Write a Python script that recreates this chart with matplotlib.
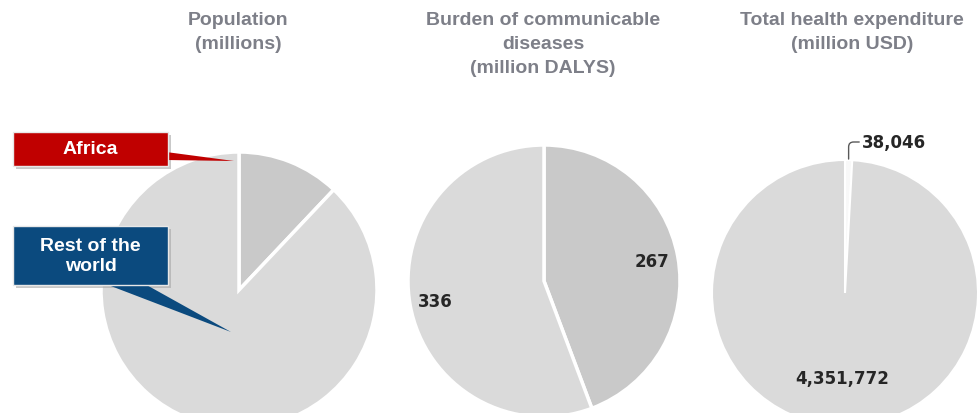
import numpy as np
import matplotlib
matplotlib.use("Agg")
import matplotlib.pyplot as plt
from matplotlib.patches import Rectangle, Polygon

# data
titles = ["Population\n(millions)",
          "Burden of communicable\ndiseases\n(million DALYS)",
          "Total health expenditure\n(million USD)"]
population = [1000, 7300]          # Africa, rest of the world (no labels shown)
dalys = [267, 336]                 # Africa, rest of the world
expenditure = [38046, 4351772]     # Africa, rest of the world

W, H = 977, 414
light = "#dadada"
dark = "#c9c9c9"
txt = "#262626"
title_col = "#7d7f88"


def Y(y):
    # image pixel row -> data y (y axis points up)
    return H - y


fig = plt.figure(figsize=(W / 100, H / 100), dpi=100)
ax = fig.add_axes([0, 0, 1, 1])
wp = dict(edgecolor="white", linewidth=2.5)

# pie 1: population
ax.pie(population, center=(239, Y(291)), radius=138, startangle=90,
       counterclock=False, colors=[dark, light], wedgeprops=wp)

# pie 2: communicable disease burden
w2, t2, a2 = ax.pie(dalys, center=(544, Y(282)), radius=136, startangle=90,
                    counterclock=False, colors=[dark, light], wedgeprops=wp,
                    autopct=lambda p: f"{p * sum(dalys) / 100:.0f}",
                    pctdistance=0.81)
for a in a2:
    a.set(fontsize=12, fontweight="bold", color=txt)

# pie 3: health expenditure
w3, t3 = ax.pie(expenditure, center=(845, Y(294)), radius=133, startangle=90,
                counterclock=False, colors=["#f8f8f8", light],
                wedgeprops=dict(edgecolor="white", linewidth=1.5))
big = w3[1]
mid = np.deg2rad((big.theta1 + big.theta2) / 2)
cx, cy = big.center
ax.text(cx + 0.64 * big.r * np.cos(mid), cy + 0.64 * big.r * np.sin(mid),
        f"{expenditure[1]:,}", ha="center", va="center",
        fontsize=12, fontweight="bold", color=txt)
small = w3[0]
ms = np.deg2rad((small.theta1 + small.theta2) / 2)
ax.annotate(f"{expenditure[0]:,}",
            xy=(cx + small.r * np.cos(ms), cy + small.r * np.sin(ms) + 1),
            xytext=(cx + 17, cy + small.r + 18), ha="left", va="center",
            fontsize=12, fontweight="bold", color=txt,
            arrowprops=dict(arrowstyle="-", color="#595959", lw=1,
                            connectionstyle="angle,angleA=0,angleB=90,rad=5",
                            shrinkA=0, shrinkB=0))

# titles
for x, t in zip([238, 543, 852], titles):
    ax.text(x, Y(12), t, ha="center", va="top", fontsize=14,
            fontweight="bold", color=title_col, family="Liberation Sans",
            linespacing=1.55)


# callout boxes
def callout(x0, y0, x1, y1, color, label, tri):
    sh = 3
    ax.add_patch(Rectangle((x0 + sh, Y(y1 + sh)), x1 - x0, y1 - y0,
                           color="#a6a6a6", alpha=0.6, zorder=4, lw=0))
    ax.add_patch(Polygon([(px, Y(py)) for px, py in tri], closed=True,
                         color=color, zorder=5, lw=0))
    ax.add_patch(Rectangle((x0, Y(y1)), x1 - x0, y1 - y0, facecolor=color,
                           edgecolor="#e8e8e8", lw=1, zorder=6))
    ax.text((x0 + x1) / 2, Y((y0 + y1) / 2), label, ha="center", va="center",
            color="white", fontsize=14, fontweight="bold",
            family="Liberation Sans", zorder=7, linespacing=1.2)


callout(13, 133, 168, 167, "#c00000", "Africa",
        [(166, 153), (166, 161), (234, 162)])
callout(13, 227, 168, 286, "#0b4a7e", "Rest of the\nworld",
        [(103, 284), (143, 284), (231, 333)])

ax.set_xlim(0, W)
ax.set_ylim(0, H)
ax.axis("off")
fig.savefig("out.png", dpi=100, facecolor="white")
